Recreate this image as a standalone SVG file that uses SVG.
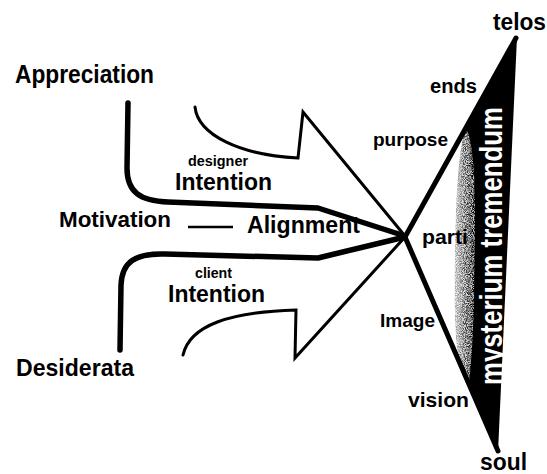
<svg xmlns="http://www.w3.org/2000/svg" width="547" height="474" viewBox="0 0 547 474">
<style>
  .lbl { font-family: "Liberation Sans", Arial, sans-serif; font-weight: bold; fill: #000; }
  .thick { fill: none; stroke: #000; stroke-width: 5.5; stroke-linecap: round; stroke-linejoin: round; }
  .thin { fill: none; stroke: #000; stroke-width: 3; stroke-linecap: round; stroke-linejoin: miter; }
  .ray { fill: none; stroke: #000; stroke-width: 5; stroke-linecap: round; }
</style>
<defs>
  <linearGradient id="stip" x1="0" y1="0" x2="1" y2="0">
    <stop offset="0" stop-color="#000" stop-opacity="0.25"/>
    <stop offset="0.5" stop-color="#000" stop-opacity="0.6"/>
    <stop offset="1" stop-color="#000" stop-opacity="0.95"/>
  </linearGradient>
  <filter id="speck" x="0" y="0" width="1" height="1">
    <feTurbulence type="fractalNoise" baseFrequency="1.1" numOctaves="1" seed="4" result="noise"/>
    <feColorMatrix in="noise" type="matrix" values="0 0 0 0 0  0 0 0 0 0  0 0 0 0 0  3.5 0 0 0 -1.3" result="dots"/>
    <feComposite in="dots" in2="SourceGraphic" operator="arithmetic" k1="1" k2="0" k3="0.25" k4="0"/>
  </filter>
</defs>
<rect width="547" height="474" fill="#fff"/>

<g id="labels-left">
  <g id="appreciation"><text class="lbl" x="15" y="83" font-size="25" textLength="139" lengthAdjust="spacingAndGlyphs">Appreciation</text></g>
  <g id="motivation"><text class="lbl" x="59" y="227" font-size="22" textLength="112" lengthAdjust="spacingAndGlyphs">Motivation</text></g>
  <g id="desiderata"><text class="lbl" x="16" y="376" font-size="24" textLength="118" lengthAdjust="spacingAndGlyphs">Desiderata</text></g>
  <g id="alignment"><text class="lbl" x="247" y="233" font-size="23" textLength="113" lengthAdjust="spacingAndGlyphs">Alignment</text></g>
  <g id="designer-intention">
    <text class="lbl" x="188" y="166" font-size="14" textLength="60" lengthAdjust="spacingAndGlyphs">designer</text>
    <text class="lbl" x="175" y="190" font-size="23" textLength="97" lengthAdjust="spacingAndGlyphs">Intention</text>
  </g>
  <g id="client-intention">
    <text class="lbl" x="195" y="278" font-size="14" textLength="37" lengthAdjust="spacingAndGlyphs">client</text>
    <text class="lbl" x="168" y="302" font-size="23" textLength="97" lengthAdjust="spacingAndGlyphs">Intention</text>
  </g>
</g>

<g id="labels-right">
  <g id="telos"><text class="lbl" x="493" y="30" font-size="23" textLength="53" lengthAdjust="spacingAndGlyphs">telos</text></g>
  <g id="ends"><text class="lbl" x="430" y="93" font-size="20" textLength="47" lengthAdjust="spacingAndGlyphs">ends</text></g>
  <g id="purpose"><text class="lbl" x="373" y="146" font-size="19" textLength="75" lengthAdjust="spacingAndGlyphs">purpose</text></g>
  <g id="parti"><text class="lbl" x="422" y="244" font-size="21" textLength="46" lengthAdjust="spacingAndGlyphs">parti</text></g>
  <g id="image"><text class="lbl" x="380" y="327" font-size="19" textLength="55" lengthAdjust="spacingAndGlyphs">Image</text></g>
  <g id="vision"><text class="lbl" x="408" y="407" font-size="21" textLength="61" lengthAdjust="spacingAndGlyphs">vision</text></g>
  <g id="soul"><text class="lbl" x="480" y="470" font-size="23" textLength="47" lengthAdjust="spacingAndGlyphs">soul</text></g>
</g>

<g id="wedge">
  <path d="M466,128 C459,145 456,190 455,250 C454,310 455,345 460,366 L470,386 L475,330 L476,200 L472,138 Z" fill="url(#stip)" filter="url(#speck)"/>
  <path d="M517,37 L466,128 C472,140 475,170 475,210 L474,300 C473,340 471,365 469,384 L498,452 Z" fill="#000"/>
  <text transform="translate(502,385) rotate(-90)" x="0" y="0" font-family="Liberation Sans, Arial, sans-serif" font-weight="bold" font-size="32" fill="#fff" textLength="278" lengthAdjust="spacingAndGlyphs">mysterium tremendum</text>
</g>

<g id="connectors">
  <path class="thick" d="M128,103 L127,168 C127,192 140,201 168,202 L318,208 L405,236"/>
  <path class="thick" d="M120,350 L121,285 C122,262 135,253 165,254 L318,258 L405,237"/>
  <path class="thin" d="M195,107 C198,135 240,155 298,158 L303,112 L405,236"/>
  <path class="thin" d="M183,355 C190,325 230,312 296,310 L295,358 L405,237"/>
  <path class="ray" d="M405,237 L516,38"/>
  <path class="ray" d="M405,237 L498,451"/>
  <path d="M188,227 L233,227" stroke="#000" stroke-width="2.5" fill="none"/>
</g>
</svg>
